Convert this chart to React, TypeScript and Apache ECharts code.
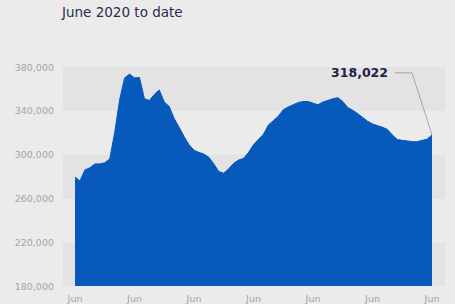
import React, { useEffect, useRef } from "react";
import * as echarts from "echarts";

const TITLE = "June 2020 to date";
const START_YEAR = 2020;
const MONTH_NAMES = ["Jan", "Feb", "Mar", "Apr", "May", "Jun", "Jul", "Aug", "Sep", "Oct", "Nov", "Dec"];
const Y_MIN = 180000;
const Y_MAX = 380000;
const Y_STEP = 40000;

// Monthly values, Jun 2020 .. Jun 2026 (thousands)
const valuesK = [
  279.5, 276, 286, 288, 291.5, 291.5, 292.5, 296, 320, 350, 370, 373.5,
  370, 370.5, 351, 349.5, 355, 359, 348, 344, 333, 325, 316.5, 309,
  304, 302, 300.5, 297.5, 291.5, 284.5, 283, 287, 292, 295, 296.5, 302,
  309, 314, 318.5, 327, 331, 335, 341, 343.5, 345.5, 347.5, 348.5, 348.5,
  347, 345.5, 348, 349.5, 351, 352, 348.5, 343, 340.5, 337.5, 334, 330.5,
  328, 326.5, 325, 323, 318, 313.8, 313, 312.5, 311.8, 311.8, 313, 314,
];
const lastValue = 318022;
const values = [...valuesK.map((v) => Math.round(v * 1000)), lastValue];

const categories: string[] = values.map((_, i) => {
  const m = (5 + i) % 12;
  const y = START_YEAR + Math.floor((5 + i) / 12);
  return `${MONTH_NAMES[m]} ${y}`;
});

const fmt = (v: number) => v.toLocaleString("en-US");

export default function App() {
  const ref = useRef<HTMLDivElement>(null);
  useEffect(() => {
    document.body.style.margin = "0";
    const chart = echarts.init(ref.current!, null, { renderer: "svg" });
    const font = "DejaVu Sans";
    chart.setOption({
      animation: false,
      backgroundColor: "#ebebeb",
      title: {
        text: TITLE,
        left: 57,
        top: 0,
        textStyle: { fontFamily: font, fontSize: 13.5, fontWeight: "normal", color: "#2a2c4e" },
      },
      grid: [
        { left: 63, right: 10, top: 67, bottom: 18 },
        { left: 75, right: 23, top: 67, bottom: 18 },
      ],
      xAxis: [
        { gridIndex: 0, type: "value", show: false, min: 0, max: 1 },
        {
          gridIndex: 1,
          type: "category",
          data: categories,
          boundaryGap: false,
          axisLine: { show: false },
          axisTick: { show: false },
          splitLine: { show: false },
          axisLabel: {
            interval: 11,
            margin: 7,
            color: "#a3a3a3",
            fontFamily: font,
            fontSize: 9.5,
            formatter: (v: string) => v.split(" ")[0],
          },
        },
      ],
      yAxis: [
        {
          gridIndex: 0,
          type: "value",
          min: Y_MIN,
          max: Y_MAX,
          interval: Y_STEP,
          axisLine: { show: false },
          axisTick: { show: false },
          splitLine: { show: false },
          splitArea: { show: true, areaStyle: { color: ["#e3e3e3", "#ebebeb"] } },
          axisLabel: {
            margin: 9,
            color: "#a3a3a3",
            fontFamily: font,
            fontSize: 9.5,
            formatter: (v: number) => fmt(v),
          },
        },
        { gridIndex: 1, type: "value", min: Y_MIN, max: Y_MAX, show: false },
      ],
      series: [
        {
          type: "line",
          xAxisIndex: 1,
          yAxisIndex: 1,
          data: values,
          symbol: "none",
          lineStyle: { width: 1, color: "#075abb" },
          areaStyle: { color: "#075abb", opacity: 1 },
        },
      ],
    });
    const p = chart.convertToPixel({ xAxisIndex: 1, yAxisIndex: 1 }, [values.length - 1, lastValue]) as number[];
    const ly = p[1] - 62;
    chart.setOption({
      graphic: [
        {
          type: "text",
          x: p[0] - 44,
          y: ly,
          style: {
            text: fmt(lastValue),
            fontFamily: font,
            fontSize: 12.5,
            fontWeight: "bold",
            fill: "#1f2248",
            align: "right",
            verticalAlign: "middle",
          },
        },
        {
          type: "polyline",
          shape: { points: [[p[0] - 37, ly], [p[0] - 20, ly], [p[0], p[1]]] },
          style: { stroke: "#8a8a8a", lineWidth: 0.7, fill: "none" },
        },
      ],
    });
    return () => chart.dispose();
  }, []);
  return <div ref={ref} style={{ position: "fixed", left: 0, top: 0, width: 455, height: 304 }} />;
}
